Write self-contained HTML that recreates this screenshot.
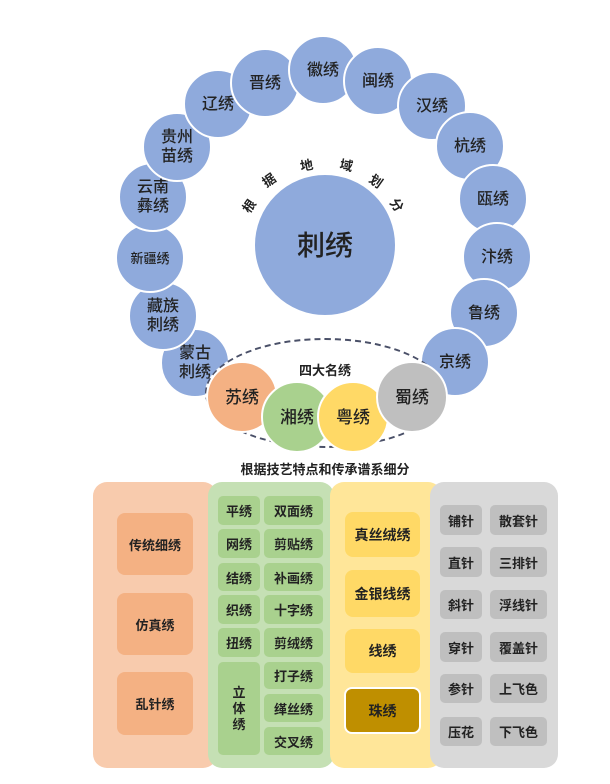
<!DOCTYPE html>
<html><head><meta charset="utf-8"><style>
body{margin:0;width:610px;height:784px;background:#fff;position:relative;overflow:hidden;font-family:"Liberation Sans","Noto Sans CJK SC",sans-serif;color:#222}
.a{position:absolute;box-sizing:border-box}
.c{position:absolute;border-radius:50%;background:#8faadc;border:2px solid #fff;display:flex;align-items:center;justify-content:center;text-align:center;font-size:16px;line-height:19px;font-weight:500;box-sizing:border-box}
.s{width:70px;height:70px}
.t{position:absolute;font-size:13px;font-weight:bold;transform-origin:center}
.b{position:absolute;display:flex;align-items:center;justify-content:center;text-align:center;font-size:13px;font-weight:bold;border-radius:8px;box-sizing:border-box}
</style></head><body>
<div class="c" style="left:253px;top:173px;width:144px;height:144px;font-size:28px;">刺绣</div>
<div class="t" style="left:242px;top:196px;transform:rotate(-55deg)">根</div>
<div class="t" style="left:262px;top:170px;transform:rotate(-35deg)">据</div>
<div class="t" style="left:300px;top:155px;transform:rotate(-10deg)">地</div>
<div class="t" style="left:340px;top:155px;transform:rotate(12deg)">域</div>
<div class="t" style="left:370px;top:171px;transform:rotate(35deg)">划</div>
<div class="t" style="left:391px;top:195px;transform:rotate(55deg)">分</div>

<div class="c s" style="left:160px;top:328px;">蒙古<br>刺绣</div>
<div class="c s" style="left:128px;top:281px;">藏族<br>刺绣</div>
<div class="c s" style="left:115px;top:223px;font-size:13px">新疆绣</div>
<div class="c s" style="left:118px;top:162px;">云南<br>彝绣</div>
<div class="c s" style="left:142px;top:112px;">贵州<br>苗绣</div>
<div class="c s" style="left:183px;top:69px;">辽绣</div>
<div class="c s" style="left:230px;top:48px;">晋绣</div>
<div class="c s" style="left:288px;top:35px;">徽绣</div>
<div class="c s" style="left:343px;top:46px;">闽绣</div>
<div class="c s" style="left:397px;top:71px;">汉绣</div>
<div class="c s" style="left:435px;top:111px;">杭绣</div>
<div class="c s" style="left:458px;top:164px;">瓯绣</div>
<div class="c s" style="left:462px;top:222px;">汴绣</div>
<div class="c s" style="left:449px;top:278px;">鲁绣</div>
<div class="c s" style="left:420px;top:327px;">京绣</div>

<div class="a" style="left:205px;top:338px;width:240px;height:110px;border:2px dashed #4a5068;border-radius:50%;background:rgba(255,255,255,0.9)"></div>
<div class="a" style="left:285px;top:360px;width:80px;text-align:center;font-size:13px;font-weight:bold">四大名绣</div>
<div class="c" style="left:206px;top:361px;width:72px;height:72px;background:#f4b183;font-size:17px">苏绣</div>
<div class="c" style="left:261px;top:381px;width:72px;height:72px;background:#a9d18e;font-size:17px">湘绣</div>
<div class="c" style="left:317px;top:381px;width:72px;height:72px;background:#ffd966;font-size:17px">粤绣</div>
<div class="c" style="left:376px;top:361px;width:72px;height:72px;background:#bfbfbf;font-size:17px">蜀绣</div>

<div class="a" style="left:195px;top:459px;width:260px;text-align:center;font-size:13px;font-weight:bold">根据技艺特点和传承谱系细分</div>

<div class="a" style="left:93px;top:482px;width:124px;height:286px;background:#f8cbad;border-radius:14px"></div>
<div class="a" style="left:208px;top:482px;width:126px;height:286px;background:#c5e0b4;border-radius:14px"></div>
<div class="a" style="left:330px;top:482px;width:112px;height:286px;background:#ffe699;border-radius:14px"></div>
<div class="a" style="left:430px;top:482px;width:128px;height:286px;background:#d9d9d9;border-radius:14px"></div>

<div class="b" style="left:117px;top:513px;width:76px;height:62px;background:#f4b183">传统细绣</div>
<div class="b" style="left:117px;top:593px;width:76px;height:62px;background:#f4b183">仿真绣</div>
<div class="b" style="left:117px;top:672px;width:76px;height:63px;background:#f4b183">乱针绣</div>

<div class="b" style="left:218px;top:496px;width:42px;height:29px;background:#a9d18e;border-radius:5px">平绣</div>
<div class="b" style="left:218px;top:529px;width:42px;height:29px;background:#a9d18e;border-radius:5px">网绣</div>
<div class="b" style="left:218px;top:563px;width:42px;height:28px;background:#a9d18e;border-radius:5px">结绣</div>
<div class="b" style="left:218px;top:595px;width:42px;height:29px;background:#a9d18e;border-radius:5px">织绣</div>
<div class="b" style="left:218px;top:628px;width:42px;height:29px;background:#a9d18e;border-radius:5px">扭绣</div>
<div class="b" style="left:218px;top:662px;width:42px;height:93px;background:#a9d18e;border-radius:5px;line-height:16px">立<br>体<br>绣</div>
<div class="b" style="left:264px;top:496px;width:59px;height:29px;background:#a9d18e;border-radius:5px">双面绣</div>
<div class="b" style="left:264px;top:529px;width:59px;height:29px;background:#a9d18e;border-radius:5px">剪贴绣</div>
<div class="b" style="left:264px;top:563px;width:59px;height:28px;background:#a9d18e;border-radius:5px">补画绣</div>
<div class="b" style="left:264px;top:595px;width:59px;height:29px;background:#a9d18e;border-radius:5px">十字绣</div>
<div class="b" style="left:264px;top:628px;width:59px;height:29px;background:#a9d18e;border-radius:5px">剪绒绣</div>
<div class="b" style="left:264px;top:662px;width:59px;height:27px;background:#a9d18e;border-radius:5px">打子绣</div>
<div class="b" style="left:264px;top:694px;width:59px;height:28px;background:#a9d18e;border-radius:5px">缂丝绣</div>
<div class="b" style="left:264px;top:727px;width:59px;height:28px;background:#a9d18e;border-radius:5px">交叉绣</div>

<div class="b" style="left:345px;top:512px;width:75px;height:45px;background:#ffd966;font-size:14px">真丝绒绣</div>
<div class="b" style="left:345px;top:570px;width:75px;height:47px;background:#ffd966;font-size:14px">金银线绣</div>
<div class="b" style="left:345px;top:629px;width:75px;height:44px;background:#ffd966;font-size:14px">线绣</div>
<div class="b" style="left:344px;top:687px;width:77px;height:47px;background:#bf8f00;border:2px solid #fff;font-size:14px">珠绣</div>

<div class="b" style="left:440px;top:505px;width:42px;height:30px;background:#bfbfbf;border-radius:5px">铺针</div>
<div class="b" style="left:440px;top:547px;width:42px;height:30px;background:#bfbfbf;border-radius:5px">直针</div>
<div class="b" style="left:440px;top:590px;width:42px;height:29px;background:#bfbfbf;border-radius:5px">斜针</div>
<div class="b" style="left:440px;top:632px;width:42px;height:30px;background:#bfbfbf;border-radius:5px">穿针</div>
<div class="b" style="left:440px;top:674px;width:42px;height:29px;background:#bfbfbf;border-radius:5px">参针</div>
<div class="b" style="left:440px;top:717px;width:42px;height:29px;background:#bfbfbf;border-radius:5px">压花</div>
<div class="b" style="left:490px;top:505px;width:57px;height:30px;background:#bfbfbf;border-radius:5px">散套针</div>
<div class="b" style="left:490px;top:547px;width:57px;height:30px;background:#bfbfbf;border-radius:5px">三排针</div>
<div class="b" style="left:490px;top:590px;width:57px;height:29px;background:#bfbfbf;border-radius:5px">浮线针</div>
<div class="b" style="left:490px;top:632px;width:57px;height:30px;background:#bfbfbf;border-radius:5px">覆盖针</div>
<div class="b" style="left:490px;top:674px;width:57px;height:29px;background:#bfbfbf;border-radius:5px">上飞色</div>
<div class="b" style="left:490px;top:717px;width:57px;height:29px;background:#bfbfbf;border-radius:5px">下飞色</div>
</body></html>
